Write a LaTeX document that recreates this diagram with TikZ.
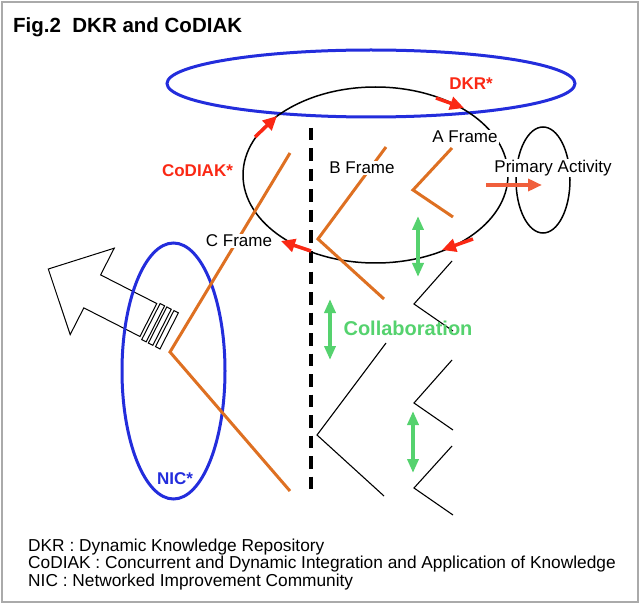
\documentclass[tikz,border=0pt]{standalone}
\usepackage{fontspec}
\setmainfont{Liberation Sans}
\usetikzlibrary{arrows.meta,shapes.geometric}
\definecolor{blueE}{RGB}{35,45,220}
\definecolor{orangeL}{RGB}{222,112,34}
\definecolor{redA}{RGB}{250,40,20}
\definecolor{greenA}{RGB}{85,210,110}
\definecolor{paArrow}{RGB}{240,95,60}
\definecolor{frameGray}{RGB}{170,170,170}
\begin{document}
\begin{tikzpicture}[x=1pt,y=-1pt,
  lab/.style={font=\fontsize{17}{20}\selectfont, inner sep=1pt, anchor=base},
  wlab/.style={lab, fill=white},
  blab/.style={font=\bfseries\fontsize{17}{20}\selectfont, inner sep=1pt, anchor=base},
  leg/.style={font=\fontsize{17.3}{20}\selectfont, inner sep=0pt, anchor=base west},
  blueell/.style={draw=blueE, line width=3pt, ellipse, inner sep=0pt},
  blackell/.style={draw=black, line width=1.5pt, ellipse, inner sep=0pt},
  oline/.style={draw=orangeL, line width=3pt},
  kline/.style={draw=black, line width=1.1pt},
  rarrow/.style={draw=redA, line width=3.5pt, -{Triangle[length=14pt,width=13pt]}},
  garrow/.style={draw=greenA, line width=3.5pt, {Triangle[length=14pt,width=11pt]}-{Triangle[length=14pt,width=11pt]}},
  parrow/.style={draw=paArrow, line width=4.5pt, -{Triangle[length=14pt,width=12pt]}},
  hollow/.style={draw=black, line width=1pt, line join=miter}
]
\useasboundingbox (0,0) rectangle (640,604);
\draw[frameGray, line width=2pt] (2,2) rectangle (638,602);

% title
\node[anchor=base west, font=\bfseries\fontsize{20.5}{24}\selectfont, inner sep=0pt] (title) at (13,32.5) {Fig.2\ \ DKR and CoDIAK};

% big hollow arrow (local frame: x along arrow, y across)
\begin{scope}[shift={(148.35,320)}, x={(-0.891pt,0.454pt)}, y={(0.454pt,0.891pt)}]
  \draw[hollow] (112.3,0) -- (63,48.5) -- (63,18.5) -- (0,18.5) -- (0,-18.5) -- (63,-18.5) -- (63,-48.5) -- cycle;
  \draw[hollow] (-3,-20.5) -- (-8,-20.5) -- (-8,20) -- (-3,20) -- cycle;
  \draw[hollow] (-10.5,-20.5) -- (-15.5,-20.5) -- (-15.5,20) -- (-10.5,20) -- cycle;
  \draw[hollow] (-18.5,-20.5) -- (-23.5,-20.5) -- (-23.5,20) -- (-18.5,20) -- cycle;
\end{scope}

% ellipses
\node[blueell, minimum width=408pt, minimum height=67pt] (dkr) at (371,83.5) {};
\node[blackell, minimum width=265pt, minimum height=176pt] (cycle) at (375.5,175) {};
\node[blackell, minimum width=54pt, minimum height=106pt] (pa) at (543,180) {};
\node[blueell, minimum width=103pt, minimum height=256pt] (nic) at (173.5,371) {};

% dashed divider
\coordinate (d1) at (311,128);
\coordinate (d2) at (311,489);
\draw[line width=3.2pt, dash pattern=on 12.5pt off 8pt] (d1) -- (d2);

% orange frames
\coordinate (c1) at (290,153); \coordinate (c2) at (170,352); \coordinate (c3) at (290,491);
\coordinate (b1) at (386,147); \coordinate (b2) at (318,239); \coordinate (b3) at (384,299);
\coordinate (a1) at (452,148); \coordinate (a2) at (413,190); \coordinate (a3) at (453,217);
\draw[oline] (c1) -- (c2) -- (c3);
\draw[oline] (b1) -- (b2) -- (b3);
\draw[oline] (a1) -- (a2) -- (a3);

% black frames
\coordinate (k1) at (386,343); \coordinate (k2) at (317,435); \coordinate (k3) at (384,496);
\coordinate (z1a) at (452,261); \coordinate (z1b) at (414,304); \coordinate (z1c) at (453,331);
\coordinate (z2a) at (452,360); \coordinate (z2b) at (414,403); \coordinate (z2c) at (453,430);
\coordinate (z3a) at (452,446); \coordinate (z3b) at (414,488); \coordinate (z3c) at (453,515);
\draw[kline] (k1) -- (k2) -- (k3);
\draw[kline] (z1a) -- (z1b) -- (z1c);
\draw[kline] (z2a) -- (z2b) -- (z2c);
\draw[kline] (z3a) -- (z3b) -- (z3c);

% labels
\node[blab, text=redA] (dkrl) at (471,90) {DKR*};
\node[blab, text=redA] (codl) at (197.5,177) {CoDIAK*};
\node[blab, text=blueE] (nicl) at (175,484) {NIC*};
\node[wlab] (af) at (465,143) {A Frame};
\node[wlab] (bf) at (362,174) {B Frame};
\node[wlab] (cf) at (239,246.5) {C Frame};
\node[wlab] (pal) at (553,172.5) {Primary Activity};
\node[anchor=base, font=\bfseries\fontsize{20}{24}\selectfont, text=greenA, inner sep=0pt] (collab) at (408,335) {Collaboration};

% red arrows on the cycle
\coordinate (r1a) at (255,137); \coordinate (r1b) at (277,116);
\coordinate (r2a) at (436,98);  \coordinate (r2b) at (464,108);
\coordinate (r3a) at (473,239); \coordinate (r3b) at (442,250);
\coordinate (r4a) at (311,251); \coordinate (r4b) at (281,241);
\draw[rarrow] (r1a) -- (r1b);
\draw[rarrow] (r2a) -- (r2b);
\draw[rarrow] (r3a) -- (r3b);
\draw[rarrow] (r4a) -- (r4b);

% primary activity arrow
\coordinate (p1) at (486,185); \coordinate (p2) at (542,185);
\draw[parrow] (p1) -- (p2);

% green collaboration arrows
\coordinate (g1a) at (418,216); \coordinate (g1b) at (418,277);
\coordinate (g2a) at (330,299); \coordinate (g2b) at (330,360);
\coordinate (g3a) at (413,411); \coordinate (g3b) at (413,473);
\draw[garrow] (g1a) -- (g1b);
\draw[garrow] (g2a) -- (g2b);
\draw[garrow] (g3a) -- (g3b);

% legend
\node[leg] (leg1) at (28,551) {DKR : Dynamic Knowledge Repository};
\node[leg] (leg2) at (28,568.8) {CoDIAK : Concurrent and Dynamic Integration and Application of Knowledge};
\node[leg] (leg3) at (28,586.5) {NIC : Networked Improvement Community};
\end{tikzpicture}
\end{document}
